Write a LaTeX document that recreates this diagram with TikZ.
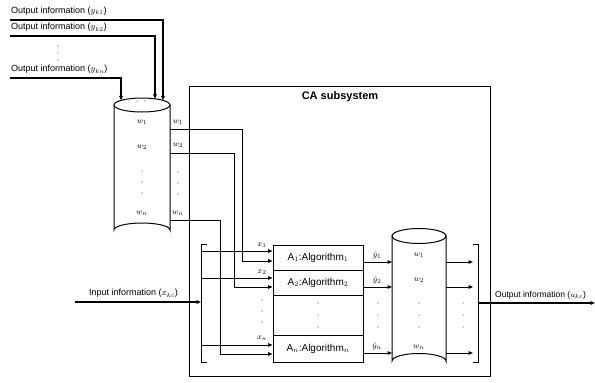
\documentclass[tikz,border=0pt]{standalone}
\usepackage{fontspec}
\setmainfont{Liberation Sans}
\usetikzlibrary{arrows.meta}
\begin{document}
\begin{tikzpicture}[x=1pt,y=-1pt,
  ln/.style={line width=1pt,line cap=rect},
  thk/.style={line width=1.4pt},
  arr/.style={-{Triangle[length=4.5pt,width=3.6pt]}},
  lbl/.style={font=\fontsize{9}{10}\selectfont,inner sep=1pt},
  sml/.style={font=\fontsize{8}{9}\selectfont,inner sep=0.5pt},
  dot/.style={circle,fill=black!70,inner sep=0pt,minimum size=1.4pt},
  algbox/.style={draw,line width=1pt,minimum width=90pt,inner sep=0pt,font=\fontsize{10}{11}\selectfont}]
\useasboundingbox (0,0) rectangle (595,383);

% ---------- top outputs feeding store 1 ----------
\coordinate (t1) at (10,20);
\coordinate (t2) at (10,36);
\coordinate (t3) at (10,78);
\node[lbl,anchor=south west] (o1) at (10,17) {Output information ($y_{k1}$)};
\node[lbl,anchor=south west] (o2) at (10,33) {Output information ($y_{k2}$)};
\node[lbl,anchor=south west] (o3) at (10,75) {Output information ($y_{kn}$)};
\node[dot] (d1) at (58,46) {};
\node[dot] (d2) at (58,53) {};
\node[dot] (d3) at (58,60) {};

% ---------- store 1 (cylinder) ----------
\draw[ln] (114,105) -- (114,230) arc[start angle=180,end angle=360,x radius=28,y radius=7] -- (170,105);
\draw[ln] (142,105) ellipse[x radius=28,y radius=7];
\coordinate (s1a) at (163,100.4);
\coordinate (s1b) at (155,98.8);
\coordinate (s1c) at (121,100.4);
\draw[thk,arr] (t1) -| (s1a);
\draw[thk,arr] (t2) -| (s1b);
\draw[thk,arr] (t3) -| (s1c);
\node[dot] at (129,101) {};
\node[dot] at (137,101) {};
\node[dot] at (145,101) {};
\node[sml] (iw1) at (142,122) {$w_1$};
\node[sml] (iw2) at (142,147) {$w_2$};
\node[dot] at (142,171) {};
\node[dot] at (142,182) {};
\node[dot] at (142,193) {};
\node[sml] (iwn) at (142,213) {$w_n$};
\node[sml] (rw1) at (178,122) {$w_1$};
\node[sml] (rw2) at (178,145) {$w_2$};
\node[dot] at (178,172) {};
\node[dot] at (178,183) {};
\node[dot] at (178,194) {};
\node[sml] (rwn) at (178,213) {$w_n$};

% ---------- CA subsystem ----------
\node[draw,line width=1pt,minimum width=301pt,minimum height=290pt,inner sep=0pt] (ca) at (339.5,231) {};
\node[font=\fontsize{11}{12}\selectfont\bfseries] (title) at (340,97) {CA subsystem};

% algorithm boxes
\node[algbox,minimum height=25pt] (a1) at (318,257.5) {A$_1$:Algorithm$_1$};
\node[algbox,minimum height=25pt] (a2) at (318,282.5) {A$_2$:Algorithm$_2$};
\node[algbox,minimum height=40pt] (ad) at (318,315) {};
\node[algbox,minimum height=27pt] (an) at (318,348.5) {A$_n$:Algorithm$_n$};
\node[dot] at (318,303) {};
\node[dot] at (318,315) {};
\node[dot] at (318,327) {};

% store 1 -> algorithms
\coordinate (w1o) at (170,129);
\coordinate (w2o) at (170,153);
\coordinate (wno) at (170,220);
\draw[ln,arr] (w1o) -| (242,261) -- (a1.west |- 0,261);
\draw[ln,arr] (w2o) -| (234,287) -- (a2.west |- 0,287);
\draw[ln,arr] (wno) -| (220,354) -- (an.west |- 0,354);

% input bracket
\draw[ln] (206,244) -- (201,244) -- (201,362) -- (206,362);
\coordinate (bin) at (201,302);
\coordinate (inp) at (75,302);
\draw[thk,arr] (inp) -- (bin);
\node[lbl,anchor=south west] (ilbl) at (88,299) {Input information ($x_{kc}$)};
\draw[ln,arr] (201,251) -- (a1.west |- 0,251);
\draw[ln,arr] (201,278) -- (a2.west |- 0,278);
\draw[ln,arr] (201,345) -- (an.west |- 0,345);
\node[sml] (x1) at (262,245) {$x_1$};
\node[sml] (x2) at (262,272) {$x_2$};
\node[dot] at (262,300) {};
\node[dot] at (262,311) {};
\node[dot] at (262,322) {};
\node[sml] (xn) at (262,338) {$x_n$};

% ---------- store 2 (cylinder) ----------
\draw[ln] (392,236) -- (392,361) arc[start angle=180,end angle=360,x radius=27,y radius=7.5] -- (446,236);
\draw[ln] (419,236) ellipse[x radius=27,y radius=7.5];
\node[sml] (cw1) at (419,255) {$w_1$};
\node[sml] (cw2) at (419,280) {$w_2$};
\node[dot] at (419,303) {};
\node[dot] at (419,315) {};
\node[dot] at (419,327) {};
\node[sml] (cwn) at (419,347) {$w_n$};

% algorithms -> store 2
\draw[ln,arr] (a1.east |- 0,262) -- (392,262);
\draw[ln,arr] (a2.east |- 0,287) -- (392,287);
\draw[ln,arr] (an.east |- 0,353) -- (392,353);
\node[sml] (y1) at (377,255) {$\hat{y}_1$};
\node[sml] (y2) at (377,280) {$\hat{y}_2$};
\node[dot] at (378,303) {};
\node[dot] at (378,315) {};
\node[dot] at (378,327) {};
\node[sml] (yn) at (377,346) {$\hat{y}_n$};

% store 2 -> output bracket
\draw[ln,arr] (446,262) -- (473,262);
\draw[ln,arr] (446,287) -- (473,287);
\draw[ln,arr] (446,353) -- (473,353);
\node[dot] at (463,303) {};
\node[dot] at (463,315) {};
\node[dot] at (463,327) {};
\draw[ln] (473,244) -- (478,244) -- (478,362) -- (473,362);
\coordinate (bout) at (478,303);
\coordinate (outp) at (595,303);
\draw[thk,arr] (bout) -- (outp);
\node[lbl,anchor=south west,font=\fontsize{8.5}{9}\selectfont] (olbl) at (494,300) {Output information ($u_{kc}$)};
\end{tikzpicture}
\end{document}
